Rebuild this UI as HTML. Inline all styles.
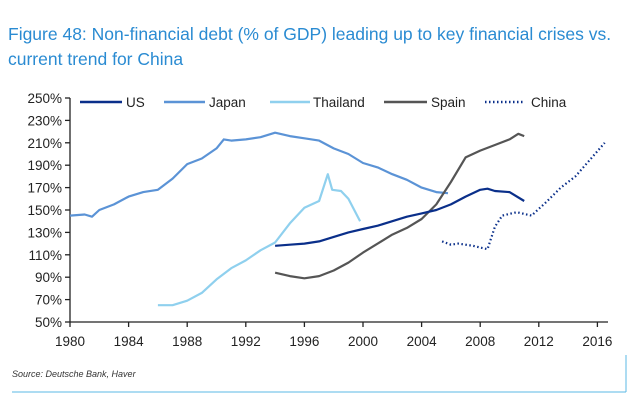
<!DOCTYPE html>
<html><head><meta charset="utf-8"><style>
body{margin:0;background:#fff;width:640px;height:407px;overflow:hidden;font-family:"Liberation Sans",sans-serif}
</style></head><body>
<svg width="640" height="407" xmlns="http://www.w3.org/2000/svg" font-family="Liberation Sans, sans-serif">
<text x="8" y="40" font-size="17.5" fill="#2a8bd2">Figure 48: Non-financial debt (% of GDP) leading up to key financial crises vs.</text>
<text x="8" y="65" font-size="17.5" fill="#2a8bd2">current trend for China</text>
<g id="axes" stroke="#222" stroke-width="1.3" fill="none"></g>
<g id="labels" font-size="13.5" fill="#222"></g>
<g id="series" fill="none" stroke-width="2.2" stroke-linejoin="round"></g>
<g font-size="13.5" fill="#222">
<line x1="80" y1="102" x2="122" y2="102" stroke="#0a2f8a" stroke-width="2.5"/><text x="126" y="107">US</text>
<line x1="164" y1="102" x2="205" y2="102" stroke="#5b93d6" stroke-width="2.5"/><text x="209" y="107">Japan</text>
<line x1="270" y1="102" x2="310" y2="102" stroke="#8fd0ee" stroke-width="2.5"/><text x="313" y="107">Thailand</text>
<line x1="384" y1="102" x2="427" y2="102" stroke="#555" stroke-width="2.5"/><text x="431" y="107">Spain</text>
<line x1="485" y1="102" x2="525" y2="102" stroke="#0a2f8a" stroke-width="2.5" stroke-dasharray="1.5,2.5"/><text x="531" y="107">China</text>
</g>
<text x="12" y="377" font-size="9" font-style="italic" fill="#333">Source: Deutsche Bank, Haver</text>
<line x1="12" y1="392" x2="626" y2="392" stroke="#5bb8e6" stroke-width="1"/>
<line x1="626" y1="355" x2="626" y2="392" stroke="#5bb8e6" stroke-width="1"/>
</svg>
<script>
const X=y=>70+(y-1980)*14.65, Y=v=>322-(v-50)*1.12;
const ns="http://www.w3.org/2000/svg";
function el(p,t,a,txt){const e=document.createElementNS(ns,t);for(const k in a)e.setAttribute(k,a[k]);if(txt)e.textContent=txt;document.getElementById(p).appendChild(e);}
el("axes","line",{x1:70,y1:98,x2:70,y2:322});
el("axes","line",{x1:70,y1:322,x2:608,y2:322});
for(let v=50;v<=250;v+=20){el("axes","line",{x1:65,y1:Y(v),x2:70,y2:Y(v)});el("labels","text",{x:62,y:Y(v)+5,"text-anchor":"end"},v+"%");}
for(let yr=1980;yr<=2016;yr+=4){el("axes","line",{x1:X(yr),y1:322,x2:X(yr),y2:327});el("labels","text",{x:X(yr),y:346,"text-anchor":"middle"},""+yr);}
const S={
japan:[[1980,145],[1981,146],[1981.5,144],[1982,150],[1983,155],[1984,162],[1985,166],[1986,168],[1987,178],[1988,191],[1989,196],[1990,205],[1990.5,213],[1991,212],[1992,213],[1993,215],[1994,219],[1995,216],[1996,214],[1997,212],[1998,205],[1999,200],[2000,192],[2001,188],[2002,182],[2003,177],[2004,170],[2005,166],[2005.8,165]],
thai:[[1986,65],[1987,65],[1988,69],[1989,76],[1990,88],[1991,98],[1992,105],[1993,114],[1994,121],[1995,138],[1996,152],[1997,158],[1997.6,182],[1997.9,168],[1998.5,167],[1999,160],[1999.8,140]],
us:[[1994,118],[1995,119],[1996,120],[1997,122],[1998,126],[1999,130],[2000,133],[2001,136],[2002,140],[2003,144],[2004,147],[2005,150],[2006,155],[2007,162],[2008,168],[2008.5,169],[2009,167],[2010,166],[2011,158]],
spain:[[1994,94],[1995,91],[1996,89],[1997,91],[1998,96],[1999,103],[2000,112],[2001,120],[2002,128],[2003,134],[2004,142],[2005,155],[2006,175],[2007,197],[2008,203],[2009,208],[2010,213],[2010.6,218],[2011,216]],
china:[[2005.4,122],[2006,119],[2006.5,120],[2007.5,118],[2008.5,115],[2009,135],[2009.5,145],[2010.5,148],[2011.5,145],[2012.5,157],[2013.5,170],[2014.5,180],[2015.5,195],[2016.5,210]]};
const st={japan:["#5b93d6",""],thai:["#8fd0ee",""],us:["#0a2f8a",""],spain:["#555",""],china:["#0a2f8a","1.5,2.5"]};
for(const k of ["japan","thai","spain","us","china"]){const d="M"+S[k].map(p=>X(p[0]).toFixed(1)+","+Y(p[1]).toFixed(1)).join("L");const a={d:d,stroke:st[k][0]};if(st[k][1])a["stroke-dasharray"]=st[k][1];el("series","path",a);}
</script>
</body></html>
